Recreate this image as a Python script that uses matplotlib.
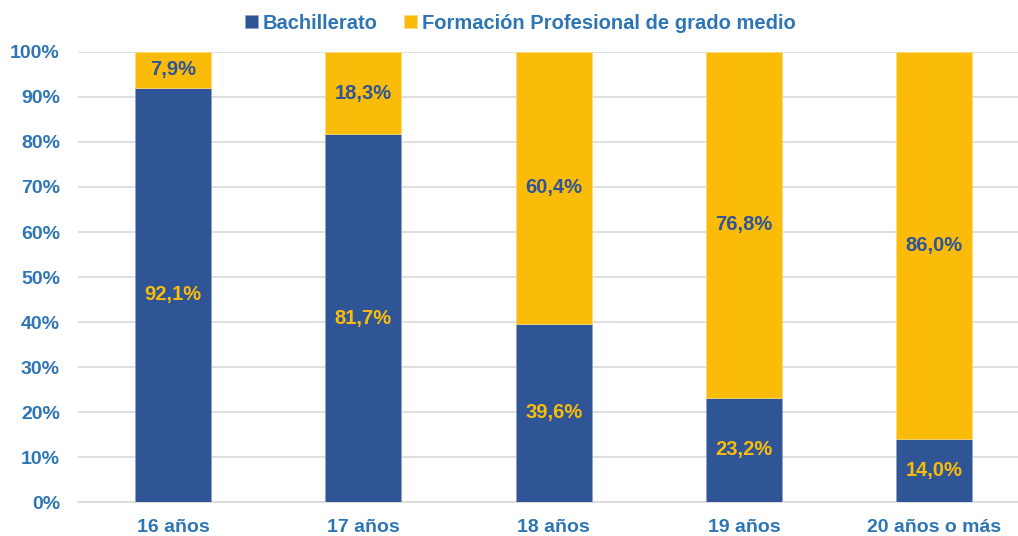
import matplotlib as mpl

mpl.use("Agg")
import matplotlib.pyplot as plt
import numpy as np

categories = ["16 años", "17 años", "18 años", "19 años", "20 años o más"]
bachillerato = [92.1, 81.7, 39.6, 23.2, 14.0]
fp_medio = [7.9, 18.3, 60.4, 76.8, 86.0]
series_names = ["Bachillerato", "Formación Profesional de grado medio"]

BLUE = "#2F5597"
YELLOW = "#FBBC09"
TEXT = "#2E75B6"
GRID = "#D9D9D9"

plt.rcParams["font.family"] = ["Liberation Sans", "DejaVu Sans"]
plt.rcParams["font.weight"] = "bold"

fig = plt.figure(figsize=(10.18, 5.36), dpi=100)
ax = fig.add_axes([0.0766, 0.0634, 0.9234, 0.8396])

x = np.arange(len(categories))
w = 0.4
b1 = ax.bar(x, bachillerato, width=w, color=BLUE, edgecolor="#8EA2C8", linewidth=0.5, zorder=3, label=series_names[0])
b2 = ax.bar(x, fp_medio, width=w, bottom=bachillerato, color=YELLOW, edgecolor="#FDDB80", linewidth=0.5, zorder=3, label=series_names[1])


def fmt(v):
    return f"{v:.1f}%".replace(".", ",")


for i in range(len(categories)):
    ax.text(x[i], bachillerato[i] / 2, fmt(bachillerato[i]), ha="center", va="center",
            color=YELLOW, fontsize=14.5, fontweight="bold", zorder=4)
    ax.text(x[i], bachillerato[i] + fp_medio[i] / 2, fmt(fp_medio[i]), ha="center", va="center",
            color=BLUE, fontsize=14.5, fontweight="bold", zorder=4)

ax.set_xlim(-0.5, 4.44)
ax.set_ylim(0, 100)
ax.set_yticks(np.arange(0, 101, 10))
ax.set_yticklabels([f"{v}%" for v in range(0, 101, 10)])
ax.set_xticks(x)
ax.set_xticklabels(categories)
ax.tick_params(axis="both", length=0, labelsize=14, labelcolor=TEXT)
ax.tick_params(axis="y", pad=13)
ax.tick_params(axis="x", pad=12)
for lab in ax.get_xticklabels() + ax.get_yticklabels():
    lab.set_fontweight("bold")

ax.grid(True, axis="y", color=GRID, lw=1.2, zorder=0)
for s in ["top", "right", "left"]:
    ax.spines[s].set_visible(False)
ax.spines["bottom"].set_color(GRID)
ax.spines["bottom"].set_linewidth(1.2)

leg = fig.legend(handles=[b1, b2], loc="upper center", bbox_to_anchor=(0.511, 1.008), ncol=2,
                 frameon=False, fontsize=14.5, handlelength=0.65, handleheight=0.65,
                 handletextpad=0.25, columnspacing=1.3)
for t in leg.get_texts():
    t.set_color(TEXT)
    t.set_fontweight("bold")

fig.savefig("out.png", dpi=100)
